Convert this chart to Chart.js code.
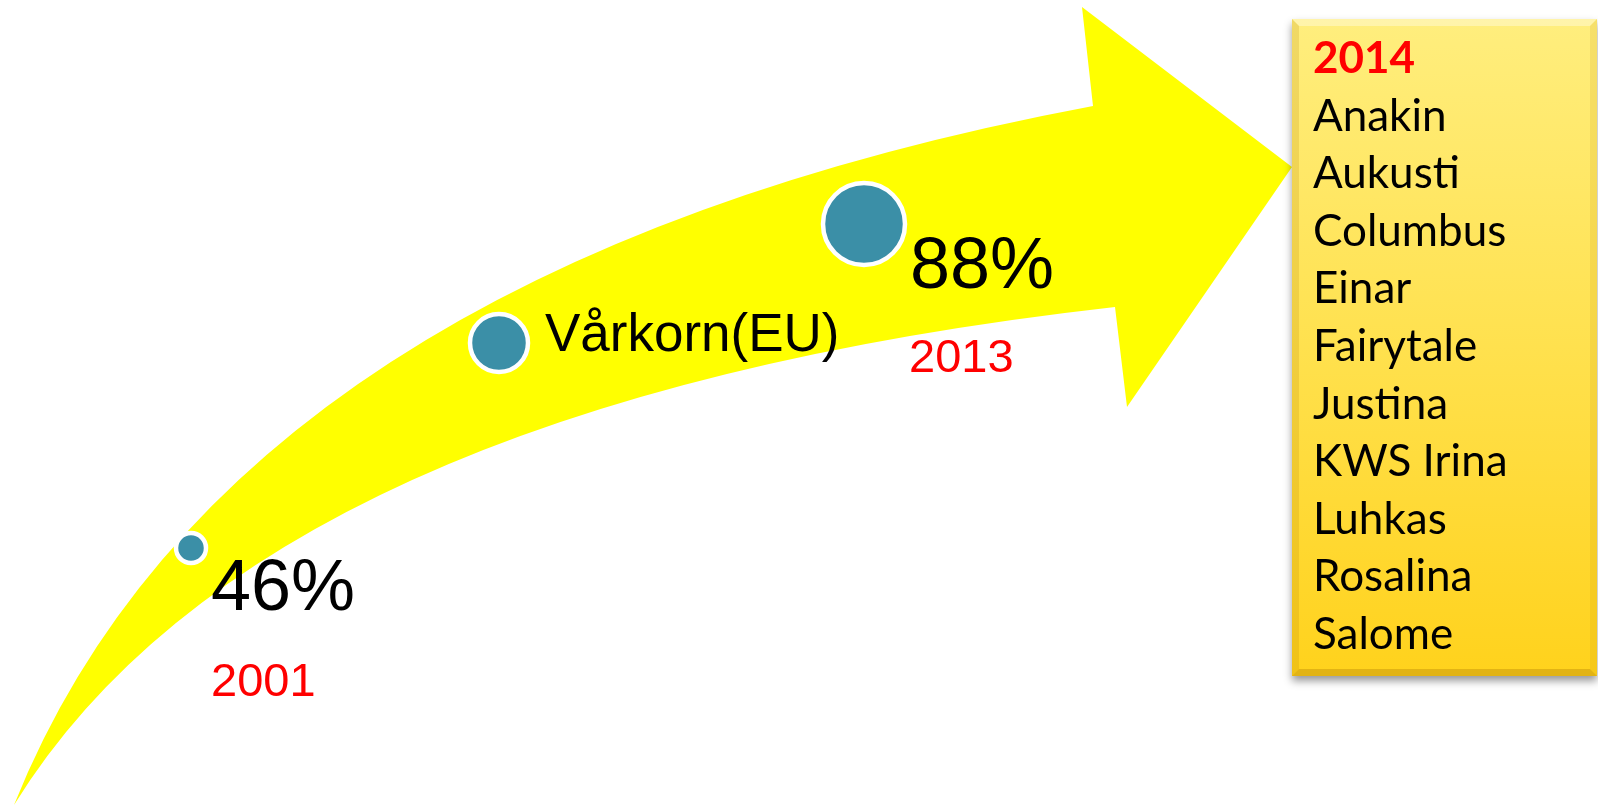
<!DOCTYPE html>
<html>
<head>
<meta charset="utf-8">
<script src="https://cdn.jsdelivr.net/npm/chart.js@4"></script>
<style>
  html, body { margin: 0; padding: 0; background: #fff; overflow: hidden; }
</style>
</head>
<body>
<canvas id="chart" width="1598" height="805"></canvas>
<script>
// milestones along the arrow
let milestoneLabels = ['46%', 'Vårkorn(EU)', '88%'];
let milestoneYears = ['2001', '', '2013'];
let milestoneX = [191, 499, 864];
let milestoneY = [548, 343, 224];
let milestoneR = [15, 29, 41];

// list in the box
let listTitle = '2014';
let varieties = ['Anakin', 'Aukusti', 'Columbus', 'Einar', 'Fairytale', 'Justina', 'KWS Irina', 'Luhkas', 'Rosalina', 'Salome'];

// label placement relative to each point (pixels)
let labelOffsets = [[20, 62], [46, 8], [46, 64]];
let labelSizes = [72, 53, 72];
let yearOffsets = [[20, 148], null, [45, 148]];

let arrowPlugin = {
  id: 'arrow',
  beforeDatasetsDraw(chart) {
    let ctx = chart.ctx;
    let sx = chart.scales.x, sy = chart.scales.y;
    let p = (a, b) => [sx.getPixelForValue(a), sy.getPixelForValue(b)];
    ctx.save();
    ctx.beginPath();
    ctx.moveTo(...p(14, 805));
    ctx.quadraticCurveTo(...p(229, 268), ...p(1093, 106));
    ctx.lineTo(...p(1082, 7));
    ctx.lineTo(...p(1292, 167));
    ctx.lineTo(...p(1127, 407));
    ctx.lineTo(...p(1115, 307));
    ctx.quadraticCurveTo(...p(262, 403), ...p(14, 805));
    ctx.closePath();
    ctx.fillStyle = '#FFFF00';
    ctx.fill();
    ctx.restore();
  }
};

let labelPlugin = {
  id: 'labels',
  afterDatasetsDraw(chart) {
    let ctx = chart.ctx;
    let meta = chart.getDatasetMeta(0);
    ctx.save();
    ctx.textBaseline = 'alphabetic';
    ctx.textAlign = 'left';
    meta.data.forEach((pt, i) => {
      ctx.fillStyle = '#000';
      ctx.font = labelSizes[i] + 'px "Liberation Sans", Arial, sans-serif';
      ctx.fillText(milestoneLabels[i], pt.x + labelOffsets[i][0], pt.y + labelOffsets[i][1]);
      if (milestoneYears[i]) {
        ctx.fillStyle = '#FF0000';
        ctx.font = '47px "Liberation Sans", Arial, sans-serif';
        ctx.fillText(milestoneYears[i], pt.x + yearOffsets[i][0], pt.y + yearOffsets[i][1]);
      }
    });
    ctx.restore();
  }
};

let boxPlugin = {
  id: 'listBox',
  afterDraw(chart) {
    let ctx = chart.ctx;
    let left = 1292, top = 19, w = 305, h = 657, b = 7;
    ctx.save();
    ctx.shadowColor = 'rgba(0, 0, 0, 0.4)';
    ctx.shadowBlur = 8;
    ctx.shadowOffsetY = 5;
    let g = ctx.createLinearGradient(0, top, 0, top + h);
    g.addColorStop(0, '#FFEE7E');
    g.addColorStop(0.5, '#FFE14E');
    g.addColorStop(1, '#FFD21C');
    ctx.fillStyle = g;
    ctx.fillRect(left, top, w, h);
    ctx.restore();

    // bevel edges
    ctx.save();
    ctx.fillStyle = 'rgba(255, 255, 255, 0.35)';
    ctx.beginPath();
    ctx.moveTo(left, top); ctx.lineTo(left + w, top);
    ctx.lineTo(left + w - b, top + b); ctx.lineTo(left + b, top + b);
    ctx.closePath(); ctx.fill();
    ctx.fillStyle = 'rgba(170, 120, 0, 0.18)';
    ctx.beginPath();
    ctx.moveTo(left, top); ctx.lineTo(left + b, top + b);
    ctx.lineTo(left + b, top + h - b); ctx.lineTo(left, top + h);
    ctx.closePath(); ctx.fill();
    ctx.fillStyle = 'rgba(190, 140, 0, 0.14)';
    ctx.beginPath();
    ctx.moveTo(left + w, top); ctx.lineTo(left + w - b, top + b);
    ctx.lineTo(left + w - b, top + h - b); ctx.lineTo(left + w, top + h);
    ctx.closePath(); ctx.fill();
    ctx.fillStyle = 'rgba(150, 100, 0, 0.28)';
    ctx.beginPath();
    ctx.moveTo(left, top + h); ctx.lineTo(left + b, top + h - b);
    ctx.lineTo(left + w - b, top + h - b); ctx.lineTo(left + w, top + h);
    ctx.closePath(); ctx.fill();

    // text
    ctx.textBaseline = 'alphabetic';
    ctx.textAlign = 'left';
    let lineH = 57.6;
    ctx.fillStyle = '#FF0000';
    ctx.font = 'bold 44px Lato, "Open Sans", sans-serif';
    ctx.fillText(listTitle, 1313, 73);
    ctx.fillStyle = '#000';
    ctx.font = '44px Lato, "Open Sans", sans-serif';
    varieties.forEach((v, i) => {
      ctx.fillText(v, 1313, 73 + (i + 1) * lineH);
    });
    ctx.restore();
  }
};

let renderChart = () => {
  let canvas = document.getElementById('chart');
  new Chart(canvas, {
    type: 'bubble',
    data: {
      labels: milestoneLabels,
      datasets: [
        {
          label: 'Milestones',
          data: milestoneX.map((x, i) => ({ x: x, y: milestoneY[i], r: milestoneR[i] })),
          backgroundColor: '#3B8FA7',
          borderColor: '#FFFFFF',
          borderWidth: 4.5,
          clip: false,
        },
      ],
    },
    options: {
      responsive: false,
      animation: false,
      devicePixelRatio: 1,
      events: [],
      layout: { padding: 0, autoPadding: false },
      plugins: {
        legend: { display: false },
        tooltip: { enabled: false },
      },
      scales: {
        x: { type: 'linear', min: 0, max: 1598, display: false },
        y: { type: 'linear', min: 0, max: 805, reverse: true, display: false },
      },
    },
    plugins: [arrowPlugin, labelPlugin, boxPlugin],
  });
};

renderChart();
</script>
</body>
</html>
